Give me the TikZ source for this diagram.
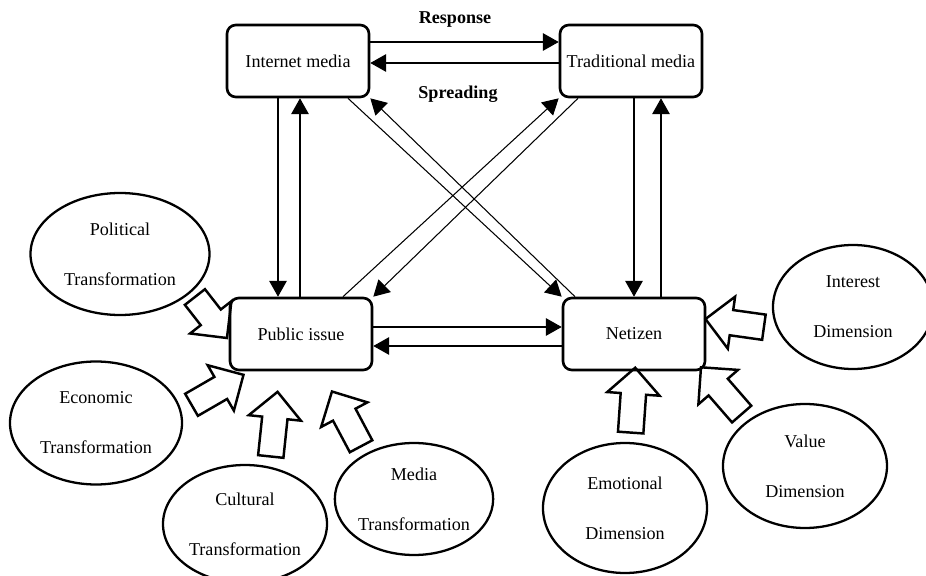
\documentclass[tikz,border=0pt]{standalone}
\usepackage{fontspec}
\setmainfont{Liberation Serif}
\usetikzlibrary{arrows.meta,shapes.geometric,shapes.arrows}

\begin{document}
\begin{tikzpicture}[
  actor/.style={draw, line width=1.5pt, rounded corners=5pt,
    minimum width=2.84cm, minimum height=1.44cm, inner sep=0pt,
    font=\fontsize{10.3}{12}\selectfont},
  factor/.style={draw, ellipse, line width=1.3pt, inner sep=0pt,
    align=center, font=\fontsize{10.3}{28.5}\selectfont},
  flow/.style={-{Triangle[length=9pt, width=10pt]}, line width=.6pt},
  push/.style={draw, single arrow, line width=1.4pt, inner xsep=0pt,
    inner ysep=.23cm, minimum width=1cm, single arrow head extend=.27cm},
  tag/.style={font=\fontsize{10.3}{12}\selectfont\bfseries}
]
  \useasboundingbox (0,0) rectangle (18.52,-11.52);
  % four actors
  \node[actor] (inet) at (5.96,-1.22) {Internet media};
  \node[actor] (trad) at (12.62,-1.22) {Traditional media};
  \node[actor] (pub) at (6.02,-6.68) {Public issue};
  \node[actor] (net) at (12.68,-6.68) {Netizen};
  \node[tag] (resp) at (9.1,-0.4) {Response};
  \node[tag] (spread) at (9.16,-1.88) {Spreading};

  % links between actors
  \draw[flow] ([yshift=.38cm]inet.east) -- ([yshift=.38cm]inet.east -| trad.west);
  \draw[flow] ([yshift=-.04cm]trad.west) -- ([yshift=-.04cm]trad.west -| inet.east);
  \draw[flow] ([yshift=.14cm]pub.east) -- ([yshift=.14cm]pub.east -| net.west);
  \draw[flow] ([yshift=-.24cm]net.west) -- ([yshift=-.24cm]net.west -| pub.east);
  \draw[flow] ([xshift=-.4cm]inet.south) -- ([xshift=-.4cm]inet.south |- pub.north);
  \draw[flow] ([xshift=.04cm]pub.north -| inet.south) -- ([xshift=.04cm]inet.south);
  \draw[flow] ([xshift=.06cm]trad.south) -- ([xshift=.06cm]trad.south |- net.north);
  \draw[flow] ([xshift=.6cm]net.north -| trad.south) -- ([xshift=.6cm]trad.south);
  \draw[flow] ([xshift=1cm]inet.south) -- (net.north west);
  \draw[flow] ([xshift=-1.18cm]net.north) -- (inet.south east);
  \draw[flow] ([xshift=.84cm]pub.north) -- (trad.south west);
  \draw[flow] ([xshift=-1.06cm]trad.south) -- (pub.north east);

  % factors
  \node[factor, minimum width=3.58cm, minimum height=2.44cm] (polit) at (2.4,-5.08) {Political\\Transformation};
  \node[factor, minimum width=3.44cm, minimum height=2.46cm] (econ) at (1.92,-8.46) {Economic\\Transformation};
  \node[factor, minimum width=3.28cm, minimum height=2.36cm] (cult) at (4.9,-10.48) {Cultural\\Transformation};
  \node[factor, minimum width=3.04cm, minimum height=2.24cm] (medtr) at (8.28,-9.98) {Media\\Transformation};
  \node[factor, minimum width=3.28cm, minimum height=2.6cm] (emot) at (12.5,-10.16) {Emotional\\Dimension};
  \node[factor, minimum width=3.28cm, minimum height=2.48cm] (val) at (16.1,-9.32) {Value\\Dimension};
  \node[factor, minimum width=3.2cm, minimum height=2.48cm] (inter) at (17.06,-6.14) {Interest\\Dimension};

  % influence arrows
  \node[push, minimum height=1.04cm, rotate=-52] (politpush) at (4.14,-6.25) {};
  \node[push, minimum height=1.2cm, rotate=30] (econpush) at (4.24,-7.86) {};
  \node[push, minimum height=1.3cm, rotate=84] (cultpush) at (5.47,-8.61) {};
  \node[push, minimum height=1.24cm, rotate=118] (medpush) at (6.99,-8.49) {};
  \node[push, minimum height=1.3cm, rotate=86] (emotpush) at (12.65,-8.13) {};
  \node[push, minimum height=1.24cm, rotate=131] (valpush) at (14.51,-7.91) {};
  \node[push, minimum height=1.18cm, rotate=172] (interpush) at (14.82,-6.48) {};
\end{tikzpicture}
\end{document}
